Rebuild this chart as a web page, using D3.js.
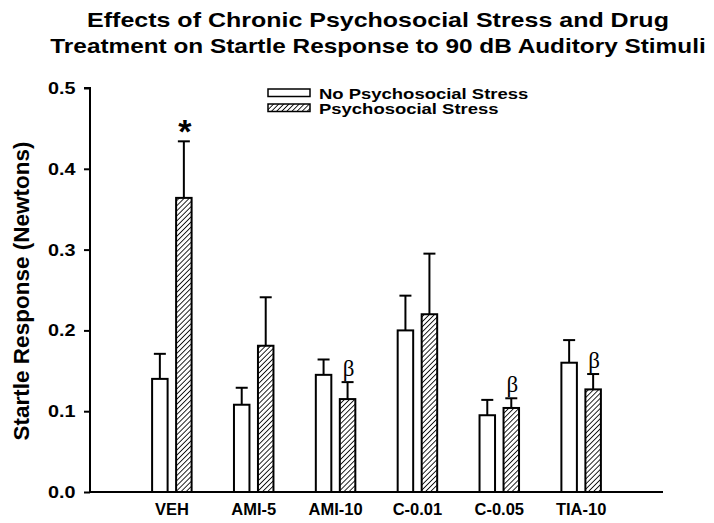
<!DOCTYPE html>
<html>
<head>
<meta charset="utf-8">
<script src="https://cdn.jsdelivr.net/npm/d3@7"></script>
<style>
  body { margin: 0; background: #fff; }
  svg { display: block; font-family: "Liberation Sans", Arial, sans-serif; }
</style>
</head>
<body>
<svg id="chart" width="714" height="523"></svg>
<script>
// Startle response grouped bars with upward SEM whiskers
const groups = ['VEH', 'AMI-5', 'AMI-10', 'C-0.01', 'C-0.05', 'TIA-10'];
const noStress = [0.140, 0.108, 0.145, 0.200, 0.095, 0.160];
const noStressErr = [0.031, 0.021, 0.019, 0.043, 0.019, 0.028];
const stress = [0.364, 0.181, 0.115, 0.220, 0.104, 0.127];
const stressErr = [0.070, 0.060, 0.021, 0.075, 0.012, 0.019];
const marks = ['*', '', 'β', '', 'β', 'β'];
const yTicks = [0.0, 0.1, 0.2, 0.3, 0.4, 0.5];
const seriesNames = ['No Psychosocial Stress', 'Psychosocial Stress'];

const svg = d3.select('#chart');

const x = d3.scaleLinear().domain([0, groups.length + 1]).range([90, 663]);
const y = d3.scaleLinear().domain([0, 0.5]).range([492, 88]);
const barW = 15.5;
const off = 12;

// the original's lettering is wider than Arial, so stretch it a little
function wideText(parent, tx, ty, sx, size, anchor, str) {
  return parent.append('g')
      .attr('transform', `translate(${tx},${ty}) scale(${sx},1)`)
    .append('text')
      .attr('text-anchor', anchor)
      .attr('font-size', size).attr('font-weight', 'bold')
      .text(str);
}

// hatch pattern
const defs = svg.append('defs');
defs.append('pattern')
    .attr('id', 'hatch')
    .attr('patternUnits', 'userSpaceOnUse')
    .attr('width', 3.6).attr('height', 3.6)
    .attr('patternTransform', 'rotate(45)')
  .append('line')
    .attr('x1', 0).attr('y1', 0).attr('x2', 0).attr('y2', 3.6)
    .attr('stroke', '#000').attr('stroke-width', 1.7);

// title
wideText(svg, 378, 27, 1.19, 21, 'middle', 'Effects of Chronic Psychosocial Stress and Drug');
wideText(svg, 378, 53, 1.16, 21, 'middle', 'Treatment on Startle Response to 90 dB Auditory Stimuli');

// y axis
const yAxis = d3.axisLeft(y).tickValues(yTicks).tickSize(6).tickFormat('');
const yg = svg.append('g').attr('transform', 'translate(90,0)').call(yAxis);
yg.select('.domain').attr('stroke-width', 2).attr('d', 'M-6,88H0V492');
yg.selectAll('.tick line').attr('stroke-width', 2);
yTicks.forEach(t => {
  wideText(svg, 75.5, y(t) + 6, 1.2, 16.5, 'end', d3.format('.1f')(t));
});

// x axis baseline
svg.append('line')
    .attr('x1', x(0)).attr('x2', x(groups.length + 1))
    .attr('y1', y(0)).attr('y2', y(0))
    .attr('stroke', '#000').attr('stroke-width', 2);

svg.append('g').selectAll('text')
  .data(groups)
  .join('text')
    .attr('x', (d, i) => x(i + 1))
    .attr('y', 515)
    .attr('text-anchor', 'middle')
    .attr('font-size', 16.5).attr('font-weight', 'bold')
    .text(d => d);

// y label
svg.append('text')
    .attr('transform', 'translate(29,291) rotate(-90)')
    .attr('text-anchor', 'middle')
    .attr('font-size', 22.5).attr('font-weight', 'bold')
    .text('Startle Response (Newtons)');

// bars + whiskers
const series = [
  { vals: noStress, errs: noStressErr, dx: -off, fill: '#fff' },
  { vals: stress, errs: stressErr, dx: off, fill: 'url(#hatch)' }
];

series.forEach(s => {
  const g = svg.append('g');
  groups.forEach((name, i) => {
    const cx = x(i + 1) + s.dx;
    const top = y(s.vals[i] + s.errs[i]);
    g.append('line')
        .attr('x1', cx).attr('x2', cx)
        .attr('y1', y(s.vals[i])).attr('y2', top)
        .attr('stroke', '#000').attr('stroke-width', 2);
    g.append('line')
        .attr('x1', cx - 6).attr('x2', cx + 6)
        .attr('y1', top).attr('y2', top)
        .attr('stroke', '#000').attr('stroke-width', 2);
    g.append('rect')
        .attr('x', cx - barW / 2).attr('width', barW)
        .attr('y', y(s.vals[i])).attr('height', y(0) - y(s.vals[i]))
        .attr('fill', s.fill)
        .attr('stroke', '#000').attr('stroke-width', 2);
  });
});

// significance marks over the stress bars
svg.append('g').selectAll('text')
  .data(marks.map((m, i) => ({ m, i })).filter(d => d.m))
  .join('text')
    .attr('x', d => x(d.i + 1) + off + 1)
    .attr('y', d => y(stress[d.i] + stressErr[d.i]) - (d.m === '*' ? -2 : 6))
    .attr('text-anchor', 'middle')
    .attr('font-size', d => d.m === '*' ? 34 : 23)
    .attr('font-weight', d => d.m === '*' ? 'bold' : 'normal')
    .attr('font-family', d => d.m === '*' ? '"Liberation Sans", Arial, sans-serif' : '"Liberation Serif", serif')
    .text(d => d.m);

// legend
const legend = svg.append('g').attr('transform', 'translate(268,89)');
seriesNames.forEach((name, i) => {
  const row = legend.append('g').attr('transform', `translate(0,${i * 15})`);
  row.append('rect')
      .attr('width', 42).attr('height', 7.5)
      .attr('fill', series[i].fill)
      .attr('stroke', '#000').attr('stroke-width', 1.5);
  wideText(row, 51, 9.5, 1.32, 14, 'start', name);
});
</script>
</body>
</html>
